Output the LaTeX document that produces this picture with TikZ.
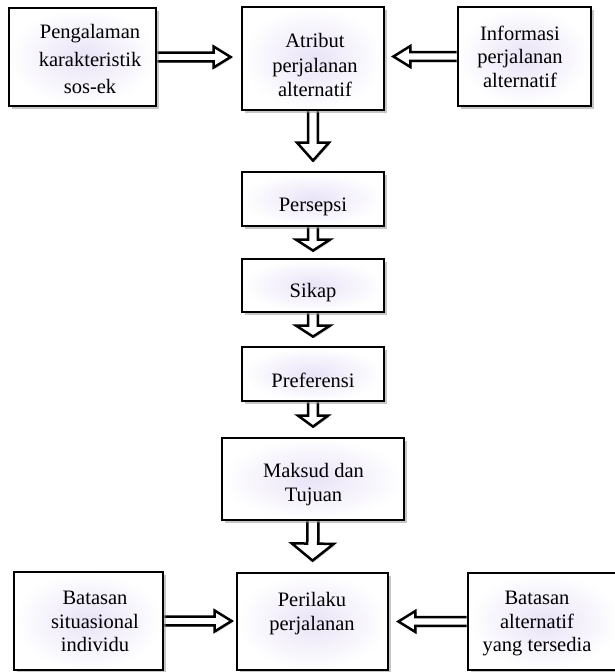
\documentclass[tikz,border=0pt]{standalone}
\usepackage{fontspec}
\setmainfont{Liberation Serif}
\usetikzlibrary{calc,shadows,backgrounds}
\definecolor{glow}{RGB}{233,227,247}
\tikzset{
  box/.style={draw=black, line width=2.8pt, shade, inner color=glow, outer color=white,
    inner sep=0pt,
    drop shadow={shadow xshift=2.5pt, shadow yshift=-2.5pt, opacity=0.45}},
  txt/.style={align=center, inner sep=0pt},
  sz/.style={font=\fontsize{20.5}{#1}\selectfont},
  fat/.style={draw=black, line width=2.5pt, fill=white, line join=miter,
    drop shadow={shadow xshift=1.5pt, shadow yshift=-1.5pt, opacity=0.35}}
}
% #1 shaft half width, #2 head half width, #3 head length, #4 from, #5 to
\newcommand{\fatarrow}[5]{%
  \coordinate (fa1) at (#4);
  \coordinate (fa2) at (#5);
  \coordinate (fa3) at ($(fa2)!#3!(fa1)$);
  \path[fat] ($(fa1)!#1!90:(fa2)$) -- ($(fa3)!#1!90:(fa2)$) -- ($(fa3)!#2!90:(fa2)$)
    -- (fa2) -- ($(fa3)!#2!-90:(fa2)$) -- ($(fa3)!#1!-90:(fa2)$) -- ($(fa1)!#1!-90:(fa2)$);
}
\begin{document}
\begin{tikzpicture}[x=1pt,y=-1pt]
\useasboundingbox (0,0) rectangle (615,672);
% top row
\node[box, minimum width=147pt, minimum height=98pt] (tl) at (82.5,57) {};
\node[box, minimum width=142pt, minimum height=103pt] (tc) at (313,58.5) {};
\node[box, minimum width=133pt, minimum height=99pt] (tr) at (524.5,56.5) {};
% chain
\node[box, minimum width=142pt, minimum height=54pt] (ps) at (313,199) {};
\node[box, minimum width=142pt, minimum height=53pt] (sk) at (313,285.5) {};
\node[box, minimum width=142pt, minimum height=54pt] (pf) at (313,374) {};
\node[box, minimum width=182pt, minimum height=82pt] (mt) at (313,479) {};
% bottom row
\node[box, minimum width=151pt, minimum height=97pt] (pj) at (312.5,621.5) {};
\node[box, minimum width=149pt, minimum height=98pt] (bl) at (88.5,621) {};
\node[box, minimum width=152pt, minimum height=97pt] (br) at (544,621.5) {};
% texts
\node[txt, sz=27.5] (tlt) at (90,60.5) {\strut Pengalaman\\\strut karakteristik\\\strut sos-ek};
\node[txt, sz=24.5] (tct) at (315,67.5) {\strut Atribut\\\strut perjalanan\\\strut alternatif};
\node[txt, sz=23.5] (trt) at (520,59) {\strut Informasi\\\strut perjalanan\\\strut alternatif};
\node[txt, sz=24] (pst) at (313,207) {\strut Persepsi};
\node[txt, sz=24] (skt) at (313,293) {\strut Sikap};
\node[txt, sz=24] (pft) at (313,383) {\strut Preferensi};
\node[txt, sz=24] (mtt) at (313.5,485) {\strut Maksud dan\\\strut Tujuan};
\node[txt, sz=24] (pjt) at (312,614) {\strut Perilaku\\\strut perjalanan};
\node[txt, sz=23.5] (blt) at (95,623.5) {\strut Batasan\\\strut situasional\\\strut individu};
\node[txt, sz=23.5] (brt) at (537,623.5) {\strut Batasan\\\strut alternatif\\\strut yang tersedia};
% arrows
\begin{scope}[on background layer]
\fatarrow{4.3pt}{10.5pt}{17pt}{tl.east}{$(tl.east -| tc.west)+(-10,0)$}
\fatarrow{4.3pt}{10.5pt}{17pt}{tr.west}{$(tr.west -| tc.east)+(8,0)$}
\fatarrow{4.8pt}{16pt}{18pt}{tc.south}{$(ps.north)+(0,-10)$}
\fatarrow{4.8pt}{17pt}{11pt}{ps.south}{$(sk.north)+(0,-7)$}
\fatarrow{4.8pt}{17pt}{11pt}{sk.south}{$(pf.north)+(0,-9)$}
\fatarrow{4.8pt}{15pt}{11pt}{pf.south}{$(mt.north)+(0,-10)$}
\fatarrow{5.5pt}{21pt}{17pt}{mt.south}{$(pj.north)+(0,-11)$}
\fatarrow{4.3pt}{10.5pt}{17pt}{bl.east}{$(bl.east -| pj.west)+(-4,0)$}
\fatarrow{4.3pt}{10.5pt}{17pt}{br.west}{$(br.west -| pj.east)+(9,0)$}
\end{scope}
\end{tikzpicture}
\end{document}
